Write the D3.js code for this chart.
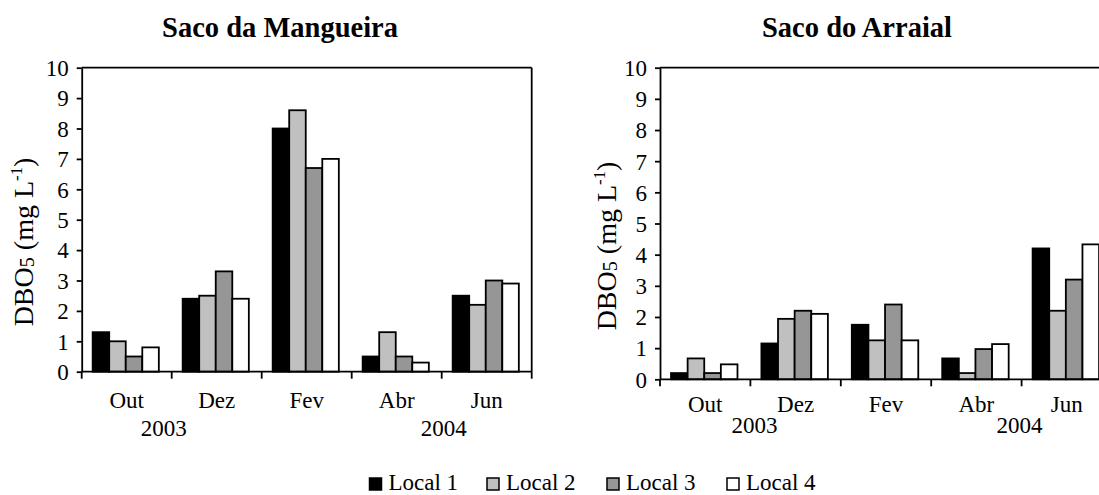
<!DOCTYPE html>
<html>
<head>
<meta charset="utf-8">
<script src="https://cdn.jsdelivr.net/npm/d3@7"></script>
<style>
  html, body { margin: 0; padding: 0; background: #fff; overflow: hidden; }
  svg { display: block; }
  svg text { font-family: "Liberation Serif", "Times New Roman", serif !important; fill: #000; }
</style>
</head>
<body>
<svg id="chart" width="1099" height="495"></svg>
<script>
// Sampling months and sites
const months = ["Out", "Dez", "Fev", "Abr", "Jun"];
const locals = ["Local 1", "Local 2", "Local 3", "Local 4"];
const yearLabels = ["2003", "2004"];
const yTicks = [0, 1, 2, 3, 4, 5, 6, 7, 8, 9, 10];

// DBO5 (mg L-1), Saco da Mangueira
const mangLocal1 = [1.3, 2.4, 8.0, 0.5, 2.5];
const mangLocal2 = [1.0, 2.5, 8.6, 1.3, 2.2];
const mangLocal3 = [0.5, 3.3, 6.7, 0.5, 3.0];
const mangLocal4 = [0.8, 2.4, 7.0, 0.3, 2.9];

// DBO5 (mg L-1), Saco do Arraial
const arrLocal1 = [0.2, 1.15, 1.75, 0.67, 4.2];
const arrLocal2 = [0.67, 1.94, 1.25, 0.2, 2.2];
const arrLocal3 = [0.2, 2.2, 2.4, 0.97, 3.2];
const arrLocal4 = [0.48, 2.1, 1.25, 1.13, 4.33];

const fills = ["#000000", "#c0c0c0", "#969696", "#ffffff"];

const svg = d3.select("#chart");
const FS = 23;
const YFS = 28;
const LW = 1.8;

function drawPanel(cfg) {
  const series = cfg.series;
  const x = d3.scaleBand().domain(months).range([cfg.x0, cfg.x1]).paddingInner(0).paddingOuter(0);
  const xs = d3.scaleBand().domain(locals).range([0, x.bandwidth()])
    .paddingInner(0).paddingOuter(0.72).align(0.46);
  const y = d3.scaleLinear().domain([0, 10]).range([cfg.yBottom, cfg.yTop]);

  const g = svg.append("g");

  // bars
  locals.forEach((loc, li) => {
    g.append("g").selectAll("rect")
      .data(series[li])
      .join("rect")
      .attr("x", (d, i) => x(months[i]) + xs(loc))
      .attr("y", d => y(d))
      .attr("width", xs.bandwidth())
      .attr("height", d => y(0) - y(d))
      .attr("fill", fills[li])
      .attr("stroke", "#000")
      .attr("stroke-width", LW);
  });

  // plot frame: top and right edges
  g.append("line").attr("x1", cfg.x0).attr("x2", cfg.x1)
    .attr("y1", y(10)).attr("y2", y(10))
    .attr("stroke", "#000").attr("stroke-width", LW);
  g.append("line").attr("x1", cfg.x1).attr("x2", cfg.x1)
    .attr("y1", y(10)).attr("y2", y(0))
    .attr("stroke", "#000").attr("stroke-width", LW);

  // y axis
  const ya = g.append("g")
    .attr("transform", `translate(${cfg.x0},0)`)
    .call(d3.axisLeft(y).tickValues(yTicks).tickSize(5).tickPadding(8).tickSizeOuter(0));
  ya.attr("font-family", null).attr("font-size", null);
  ya.select(".domain").attr("stroke-width", LW);
  ya.selectAll(".tick line").attr("stroke-width", LW);
  ya.selectAll(".tick text")
    .attr("font-size", FS)
    .attr("dy", "0.34em");

  // x axis: baseline and boundary ticks
  g.append("line").attr("x1", cfg.x0).attr("x2", cfg.x1)
    .attr("y1", y(0)).attr("y2", y(0))
    .attr("stroke", "#000").attr("stroke-width", LW);
  const bounds = months.map(m => x(m)).concat([cfg.x1]);
  g.append("g").selectAll("line")
    .data(bounds)
    .join("line")
    .attr("x1", d => d).attr("x2", d => d)
    .attr("y1", y(0)).attr("y2", y(0) + 7)
    .attr("stroke", "#000").attr("stroke-width", LW);

  g.append("g").selectAll("text")
    .data(months)
    .join("text")
    .attr("x", d => x(d) + x.bandwidth() / 2)
    .attr("y", y(0) + cfg.catDy)
    .attr("text-anchor", "middle")
    .attr("font-size", FS)
    .text(d => d);

  // years under the month labels
  g.append("text")
    .attr("x", x("Dez") + cfg.yearShift[0]).attr("y", y(0) + cfg.yearDy)
    .attr("text-anchor", "middle").attr("font-size", FS).text(yearLabels[0]);
  g.append("text")
    .attr("x", x("Jun") + cfg.yearShift[1]).attr("y", y(0) + cfg.yearDy)
    .attr("text-anchor", "middle").attr("font-size", FS).text(yearLabels[1]);

  // y axis title
  const t = g.append("text")
    .attr("transform", `translate(${cfg.labelX},${cfg.labelY}) rotate(-90)`)
    .attr("text-anchor", "middle")
    .attr("font-size", YFS);
  t.append("tspan").text("DBO");
  t.append("tspan").attr("font-size", YFS * 0.72).attr("dy", 1).text("5");
  t.append("tspan").attr("dy", -1).text(" (mg L");
  t.append("tspan").attr("font-size", YFS * 0.6).attr("dy", -11).text("-1");
  t.append("tspan").attr("dy", 11).text(")");

  // panel title
  g.append("text")
    .attr("x", cfg.titleX).attr("y", 37)
    .attr("text-anchor", "middle")
    .attr("font-size", 28.5).attr("font-weight", "bold")
    .text(cfg.title);
}

drawPanel({
  title: "Saco da Mangueira", titleX: 280,
  series: [mangLocal1, mangLocal2, mangLocal3, mangLocal4],
  x0: 81.7, x1: 531.7, yTop: 67.7, yBottom: 371.7,
  catDy: 36, yearDy: 64, yearShift: [-8, 2],
  labelX: 33, labelY: 242
});

drawPanel({
  title: "Saco do Arraial", titleX: 857,
  series: [arrLocal1, arrLocal2, arrLocal3, arrLocal4],
  x0: 660, x1: 1112, yTop: 67.7, yBottom: 379.3,
  catDy: 33, yearDy: 54, yearShift: [4, -2],
  labelX: 616, labelY: 246
});

// legend
const legend = svg.append("g");
const legendX = [369.5, 487, 607, 727];
locals.forEach((loc, i) => {
  legend.append("rect")
    .attr("x", legendX[i]).attr("y", 478)
    .attr("width", 12).attr("height", 12)
    .attr("fill", fills[i]).attr("stroke", "#000").attr("stroke-width", 1.5);
  legend.append("text")
    .attr("x", legendX[i] + 19).attr("y", 490)
    .attr("font-size", FS)
    .text(loc);
});
</script>
</body>
</html>
